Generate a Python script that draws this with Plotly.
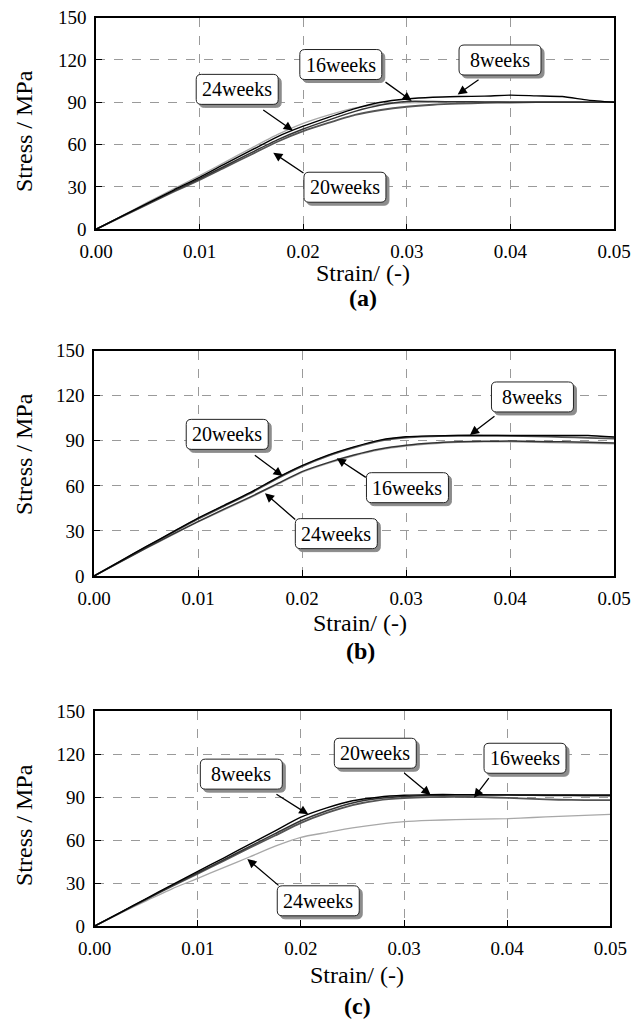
import plotly.graph_objects as go

# ---------------- data ----------------
strain = [0.0, 0.0025, 0.005, 0.0075, 0.01, 0.0125, 0.015, 0.0175, 0.02, 0.0225,
          0.025, 0.0275, 0.03, 0.0325, 0.035, 0.0375, 0.04, 0.0425, 0.045, 0.0475, 0.05]

series_names = ["24weeks", "20weeks", "16weeks", "8weeks"]

# panel (a)
a_24w = [0, 9.6, 19.2, 28.7, 38.0, 47.8, 57.5, 67.0, 75.0, 81.0, 86.0, 88.5, 89.5, 90.0, 90.2, 90.2, 90.2, 90.2, 90.2, 90.2, 90.2]
a_20w = [0, 8.9, 17.8, 26.6, 35.0, 44.0, 53.0, 62.0, 69.5, 75.5, 81.0, 84.5, 86.8, 88.2, 89.0, 89.5, 89.8, 90.0, 90.0, 90.0, 90.0]
a_16w = [0, 9.1, 18.2, 27.2, 35.8, 45.0, 54.3, 63.3, 71.0, 77.5, 83.5, 88.0, 90.5, 90.5, 90.3, 90.2, 90.0, 90.0, 90.0, 90.0, 90.0]
a_8w = [0, 9.3, 18.6, 27.8, 36.8, 46.5, 56.0, 65.5, 73.0, 79.5, 85.5, 90.0, 92.3, 93.5, 94.0, 94.3, 95.0, 94.5, 94.0, 91.5, 90.0]

# panel (b)
b_24w = [0, 9.2, 18.3, 27.2, 36.0, 44.0, 52.0, 60.5, 69.0, 75.0, 80.0, 84.0, 86.5, 88.0, 89.0, 89.3, 89.3, 89.0, 88.6, 88.3, 88.0]
b_20w = [0, 9.6, 19.2, 28.7, 38.0, 46.5, 55.0, 64.5, 73.0, 80.0, 85.5, 90.0, 92.2, 93.0, 93.5, 93.5, 93.3, 93.0, 92.5, 92.0, 91.5]
b_16w = [0, 9.3, 18.5, 27.5, 36.2, 44.5, 52.5, 61.0, 69.5, 75.5, 80.5, 84.5, 87.0, 88.5, 89.3, 89.7, 89.8, 89.6, 89.3, 89.0, 88.5]
b_8w = [0, 9.8, 19.5, 29.0, 38.5, 47.0, 55.5, 65.0, 73.5, 80.5, 86.0, 90.5, 92.7, 93.3, 93.5, 93.5, 93.5, 93.5, 93.5, 93.5, 92.5]

# panel (c)
c_24w = [0, 9.0, 17.5, 26.0, 33.3, 40.8, 48.2, 55.8, 62.0, 65.3, 68.5, 71.0, 72.9, 73.8, 74.3, 74.7, 75.0, 75.8, 76.6, 77.3, 78.0]
c_20w = [0, 9.3, 18.6, 27.8, 36.6, 45.5, 54.5, 63.2, 72.0, 79.0, 84.5, 87.8, 89.3, 90.0, 90.2, 90.0, 89.5, 88.8, 88.2, 88.0, 88.0]
c_16w = [0, 9.4, 18.8, 28.2, 37.2, 46.2, 55.5, 64.5, 73.5, 80.5, 86.0, 89.0, 90.5, 91.2, 91.5, 91.5, 91.5, 91.3, 91.2, 91.0, 91.0]
c_8w = [0, 9.6, 19.2, 28.8, 38.2, 47.5, 57.0, 66.5, 76.0, 82.5, 87.5, 90.0, 91.3, 91.8, 91.8, 91.7, 91.6, 91.6, 91.5, 91.5, 91.5]

x_ticks = [0.0, 0.01, 0.02, 0.03, 0.04, 0.05]
y_ticks = [0, 30, 60, 90, 120, 150]
panel_labels = ["(a)", "(b)", "(c)"]

# label boxes: (text, box centre strain, box centre stress, arrow tail strain, tail stress, tip strain, tip stress)
a_labels = [("16weeks", 0.02363, 116.7, 0.0278, 105.0, 0.03047, 90.9),
            ("8weeks", 0.0390, 119.9, 0.03707, 106.7, 0.03491, 95.5),
            ("24weeks", 0.01363, 99.1, 0.0160, 85.3, 0.0190, 69.9),
            ("20weeks", 0.02403, 29.8, 0.02017, 39.1, 0.01711, 54.2)]
b_labels = [("20weeks", 0.01281, 94.3, 0.01532, 81.2, 0.01814, 66.6),
            ("24weeks", 0.0233, 28.2, 0.01949, 36.8, 0.01644, 55.1),
            ("16weeks", 0.03014, 58.8, 0.02628, 65.0, 0.02334, 78.4),
            ("8weeks", 0.04216, 119.2, 0.03865, 107.2, 0.03615, 93.9)]
c_labels = [("8weeks", 0.01422, 106.1, 0.01748, 92.7, 0.02071, 78.0),
            ("24weeks", 0.02168, 17.6, 0.01797, 27.5, 0.0148, 46.8),
            ("20weeks", 0.02721, 120.7, 0.02987, 107.8, 0.03258, 91.5),
            ("16weeks", 0.04173, 117.2, 0.03833, 104.3, 0.03678, 89.6)]

# ---------------- styling ----------------
PAGE_W, PAGE_H = 643, 1022
OFF = 8                       # default page (body) margin in the browser
W, H = PAGE_W - OFF, PAGE_H - OFF
FONT = "Liberation Serif, Times New Roman, serif"
line_styles = {"24weeks": dict(color="#a8a8a8", width=1.3),
               "20weeks": dict(color="#555555", width=1.8),
               "16weeks": dict(color="#333333", width=1.5),
               "8weeks": dict(color="#000000", width=1.4)}


def fx(px):
    return (px - OFF) / W


def fy(py):
    return 1 - (py - OFF) / H


# pixel boxes of the plot areas on the page: (left, right, top, bottom)
panels_px = [(96, 614, 17.5, 229.3), (94, 614, 350.7, 576), (94.7, 610.3, 711.3, 926)]
panel_data = [
    {"24weeks": a_24w, "20weeks": a_20w, "16weeks": a_16w, "8weeks": a_8w},
    {"24weeks": b_24w, "20weeks": b_20w, "16weeks": b_16w, "8weeks": b_8w},
    {"24weeks": c_24w, "20weeks": c_20w, "16weeks": c_16w, "8weeks": c_8w},
]
panel_boxes = [a_labels, b_labels, c_labels]
xtitle_y = [273, 623, 975]
plabel_y = [298, 651, 1006]
ytitle_y = [131, 454, 825]
xtitle_x = [363, 360, 357]

fig = go.Figure()
annotations = []
shapes = []


def rounded_rect(w, h, r, dx=0, dy=0):
    x0, x1 = -w / 2 + dx, w / 2 + dx
    y0, y1 = -h / 2 + dy, h / 2 + dy
    return (f"M {x0 + r},{y0} L {x1 - r},{y0} Q {x1},{y0} {x1},{y0 + r} "
            f"L {x1},{y1 - r} Q {x1},{y1} {x1 - r},{y1} L {x0 + r},{y1} "
            f"Q {x0},{y1} {x0},{y1 - r} L {x0},{y0 + r} Q {x0},{y0} {x0 + r},{y0} Z")


for i, (l, r, t, b) in enumerate(panels_px):
    sfx = "" if i == 0 else str(i + 1)
    xa, ya = "x" + sfx, "y" + sfx
    for name in series_names:
        fig.add_trace(go.Scatter(x=strain, y=panel_data[i][name], mode="lines",
                                 line=dict(shape="spline", smoothing=0.6, **line_styles[name]),
                                 xaxis=xa, yaxis=ya, showlegend=False, name=name))
    axis_common = dict(showline=True, linecolor="black", linewidth=1.6, mirror=True,
                       showgrid=True, gridcolor="#9a9a9a", gridwidth=1, griddash="dash",
                       ticks="inside", ticklen=6, tickcolor="black", tickwidth=1,
                       zeroline=False, automargin=False, ticklabeloverflow="allow",
                       tickfont=dict(family=FONT, size=19, color="black"))
    fig.update_layout(**{
        "xaxis" + sfx: dict(axis_common, domain=[fx(l), fx(r)], anchor=ya,
                            range=[0, 0.05], tickvals=x_ticks, tickformat=".2f",
                            ticklabelstandoff=4),
        "yaxis" + sfx: dict(axis_common, domain=[fy(b), fy(t)], anchor=xa,
                            range=[0, 150], tickvals=y_ticks, ticklabelstandoff=4),
    })
    annotations.append(dict(text="Strain/ (-)", xref="paper", yref="paper", x=fx(xtitle_x[i]),
                            y=fy(xtitle_y[i]), showarrow=False, xanchor="center", yanchor="middle",
                            font=dict(family=FONT, size=24, color="black")))
    annotations.append(dict(text="<b>" + panel_labels[i] + "</b>", xref="paper", yref="paper",
                            x=fx(xtitle_x[i]), y=fy(plabel_y[i]), showarrow=False,
                            xanchor="center", yanchor="middle",
                            font=dict(family=FONT, size=24, color="black")))
    annotations.append(dict(text="Stress / MPa", xref="paper", yref="paper", x=fx(24),
                            y=fy(ytitle_y[i]), showarrow=False, textangle=-90,
                            xanchor="center", yanchor="middle",
                            font=dict(family=FONT, size=24, color="black")))
    for (txt, bx, by, tx, ty, px, py) in panel_boxes[i]:
        # shadow
        shapes.append(dict(type="path", xref=xa, yref=ya, xsizemode="pixel", ysizemode="pixel",
                           xanchor=bx, yanchor=by, path=rounded_rect(82, 30, 5, 3, -3),
                           fillcolor="#8c8c8c", line=dict(color="#8c8c8c", width=1), layer="above"))
        # box
        shapes.append(dict(type="path", xref=xa, yref=ya, xsizemode="pixel", ysizemode="pixel",
                           xanchor=bx, yanchor=by, path=rounded_rect(82, 30, 5),
                           fillcolor="white", line=dict(color="#222222", width=1), layer="above"))
        annotations.append(dict(text=txt, xref=xa, yref=ya, x=bx, y=by, showarrow=False,
                                xanchor="center", yanchor="middle",
                                font=dict(family=FONT, size=20, color="black")))
        annotations.append(dict(text="", xref=xa, yref=ya, x=px, y=py, ax=tx, ay=ty,
                                axref=xa, ayref=ya, showarrow=True, arrowhead=2,
                                arrowsize=1.4, arrowwidth=1.3, arrowcolor="black",
                                standoff=0, startstandoff=0))

fig.update_layout(width=W, height=H, autosize=False,
                  margin=dict(l=0, r=0, t=0, b=0, pad=0, autoexpand=False),
                  paper_bgcolor="white", plot_bgcolor="white",
                  annotations=annotations, shapes=shapes, showlegend=False)

fig.write_html("out.html")
